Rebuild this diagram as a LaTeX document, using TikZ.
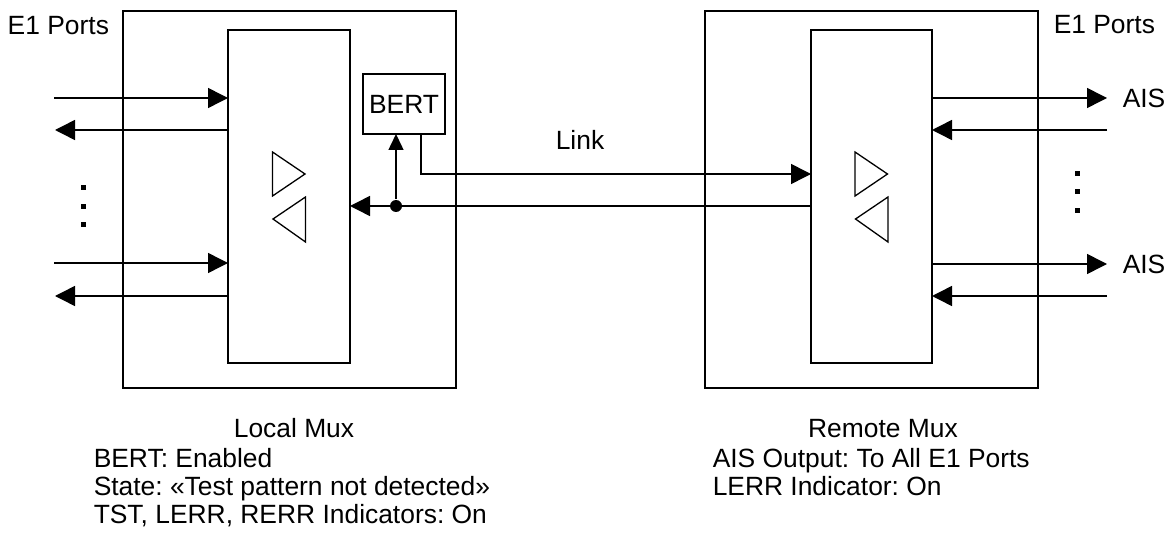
\documentclass[tikz,border=0pt]{standalone}
\usepackage{fontspec}
\setmainfont{Liberation Sans}
\usetikzlibrary{arrows.meta}
\frenchspacing
\begin{document}
\begin{tikzpicture}[x=1pt, y=-1pt, line width=1.5pt,
  box/.style={draw, rectangle, inner sep=0pt, outer sep=0pt},
  lbl/.style={inner sep=0pt, font=\fontsize{26.4}{29}\selectfont},
  arr/.style={-{Triangle[length=20pt,width=20pt]}},
  sarr/.style={-{Triangle[length=16pt,width=15pt]}},
  sq/.style={fill, rectangle, minimum size=5pt, inner sep=0pt},
  jdot/.style={fill, circle, minimum size=12pt, inner sep=0pt},
  dirs/.pic={
    \draw[line width=1.3pt] (-16.5,-44.5) -- (-16.5,-0.5) -- (16,-22.5) -- cycle;
    \draw[line width=1.3pt] (16.5,0.5) -- (16.5,45.5) -- (-16,22.5) -- cycle;
  }
]
\useasboundingbox (0,0) rectangle (1172,537);

% multiplexer housings and their switching cores
\node[box, minimum width=333pt, minimum height=377pt] (lo) at (289.5,199.5) {};
\node[box, minimum width=122pt, minimum height=333pt] (li) at (289,196.5) {};
\node[box, minimum width=333pt, minimum height=377pt] (ro) at (871.5,199.5) {};
\node[box, minimum width=121pt, minimum height=333pt] (ri) at (871.5,196.5) {};
\node[box, lbl, minimum width=82pt, minimum height=60pt] (bert) at (404,104) {BERT};

\pic at (li.center) {dirs};
\pic at (ri.center) {dirs};

% E1 ports of the local mux
\coordinate (lin1) at (54,98);
\coordinate (lout1) at (55,130);
\coordinate (lin2) at (54,263);
\coordinate (lout2) at (55,296);
\draw[arr] (lin1) -- (lin1 -| li.west);
\draw[arr] (lout1 -| li.west) -- (lout1);
\draw[arr] (lin2) -- (lin2 -| li.west);
\draw[arr] (lout2 -| li.west) -- (lout2);

% E1 ports of the remote mux
\coordinate (rout1) at (1107,98);
\coordinate (rin1) at (1107,130);
\coordinate (rout2) at (1107,264);
\coordinate (rin2) at (1107,296);
\draw[arr] (rout1 -| ri.east) -- (rout1);
\draw[arr] (rin1) -- (rin1 -| ri.east);
\draw[arr] (rout2 -| ri.east) -- (rout2);
\draw[arr] (rin2) -- (rin2 -| ri.east);

% continuation dots
\node[sq] (ld1) at (83,188) {};
\node[sq] (ld2) at (83,207) {};
\node[sq] (ld3) at (83,225) {};
\node[sq] (rd1) at (1077,174) {};
\node[sq] (rd2) at (1077,192) {};
\node[sq] (rd3) at (1077,211) {};

% link between the two muxes, with the BERT tap
\coordinate (tx) at (421,174);
\draw[arr] (bert.south -| tx) -- (tx) -- (tx -| ri.west);
\node[jdot] (j) at (396,206) {};
\draw[arr] (j -| ri.west) -- (j -| li.east);
\draw[sarr] (j) -- (j |- bert.south);

% labels
\node[lbl, anchor=base west] (e1l) at (7,35) {E1 Ports};
\node[lbl, anchor=base west] (e1r) at (1053,34) {E1 Ports};
\node[lbl, anchor=base] (link) at (580,150) {Link};
\node[lbl, anchor=west] (ais1) at (1122,98) {AIS};
\node[lbl, anchor=west] (ais2) at (1122,264) {AIS};

\node[lbl, anchor=base] (lmux) at (294,437) {Local Mux};
\node[lbl, anchor=base west] (l1) at (93,467) {BERT: Enabled};
\node[lbl, anchor=base west] (l2) at (93,495) {State: «Test pattern not detected»};
\node[lbl, anchor=base west] (l3) at (93,523) {TST, LERR, RERR Indicators: On};

\node[lbl, anchor=base] (rmux) at (883,437) {Remote Mux};
\node[lbl, anchor=base west] (r1) at (712,467) {AIS Output: To All E1 Ports};
\node[lbl, anchor=base west] (r2) at (712,495) {LERR Indicator: On};
\end{tikzpicture}
\end{document}
